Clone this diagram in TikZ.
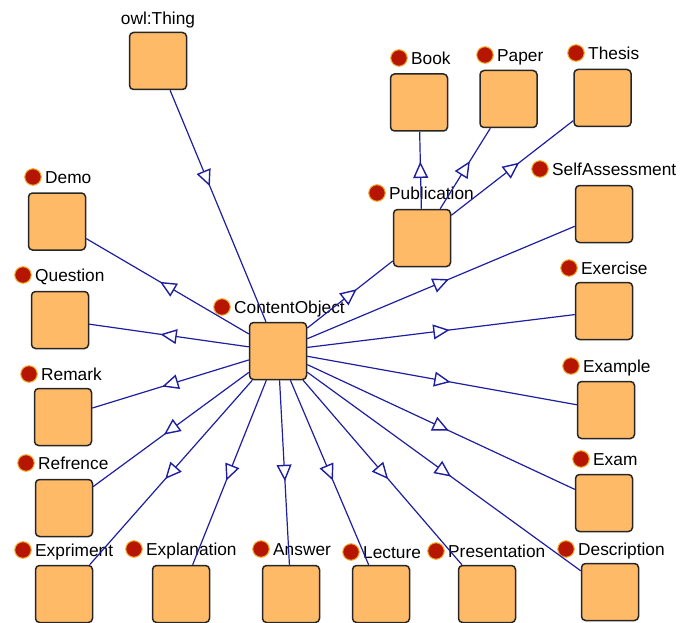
\documentclass[tikz,border=0pt]{standalone}
\usepackage{fontspec}
\setmainfont{Liberation Sans}
\usetikzlibrary{decorations.markings}
\definecolor{boxc}{RGB}{255,186,104}
\definecolor{edgec}{RGB}{30,30,160}
\definecolor{dotc}{RGB}{182,22,0}
\definecolor{dotrim}{RGB}{240,170,40}
\tikzset{
  clsbox/.style={draw=black!85, line width=1.5pt, fill=boxc, rounded corners=4pt,
    minimum width=57pt, minimum height=57pt, inner sep=0pt},
  clsdot/.style={circle, draw=dotrim, line width=1pt, fill=dotc, minimum size=16.5pt, inner sep=0pt},
  clslbl/.style={font=\fontsize{17.3}{20}\selectfont, inner sep=0pt, text=black},
  isa/.style={draw=edgec, line width=1.2pt, postaction={decorate},
    decoration={markings, mark=at position #1 with {\draw[edgec, fill=white, line width=1.4pt, line join=miter] (7pt,0pt) -- (-7pt,6.5pt) -- (-7pt,-6.5pt) -- cycle;}}},
  isa/.default=0.5
}
\newcommand\cls[6]{%
  \node[clsbox] (#1) at (#2,#3) {};
  \node[clsdot] (#1-d) at (#4,#5) {};
  \node[clslbl, anchor=base west] (#1-l) at ([xshift=12pt,yshift=-6.5pt]#1-d.center) {#6};
}
\begin{document}
\begin{tikzpicture}[x=1pt,y=-1pt]
\useasboundingbox (0,0) rectangle (680,623);
% classes
\node[clsbox] (owl) at (158,61) {};
\node[clslbl] (owl-l) at (158,20) {owl:Thing};
\cls{book}{419}{102.5}{399}{58}{Book}
\cls{paper}{508.5}{99}{485}{55}{Paper}
\cls{thesis}{602.5}{98}{576}{53}{Thesis}
\cls{pub}{422}{238}{377}{193}{Publication}
\cls{self}{604}{214}{540}{169}{SelfAssessment}
\cls{demo}{57}{221.5}{33}{177}{Demo}
\cls{co}{278}{351}{222}{307}{ContentObject}
\cls{quest}{60}{320}{23}{275}{Question}
\cls{exer}{604}{311}{569}{268}{Exercise}
\cls{remark}{63}{417}{29}{374}{Remark}
\cls{example}{606}{410}{571}{366}{Example}
\cls{refr}{64}{508}{26}{463}{Refrence}
\cls{exam}{604}{503}{581}{459}{Exam}
\cls{expr}{64}{594}{23}{550}{Expriment}
\cls{expl}{181}{594}{134}{549}{Explanation}
\cls{answer}{291}{594}{261}{549}{Answer}
\cls{lect}{381}{594}{351}{552}{Lecture}
\cls{pres}{487}{594}{436}{551}{Presentation}
\cls{desc}{610}{592}{566}{549}{Description}
% connectors
\draw[isa=0.38] (owl) -- (co);
\draw[isa] (pub) -- (book);
\draw[isa] (pub) -- (paper);
\draw[isa] (pub) -- (thesis);
\foreach \c in {pub,self,demo,quest,exer,remark,example,refr,exam,expr,expl,answer,lect,pres,desc}
  \draw[isa] (co) -- (\c);
\end{tikzpicture}
\end{document}
